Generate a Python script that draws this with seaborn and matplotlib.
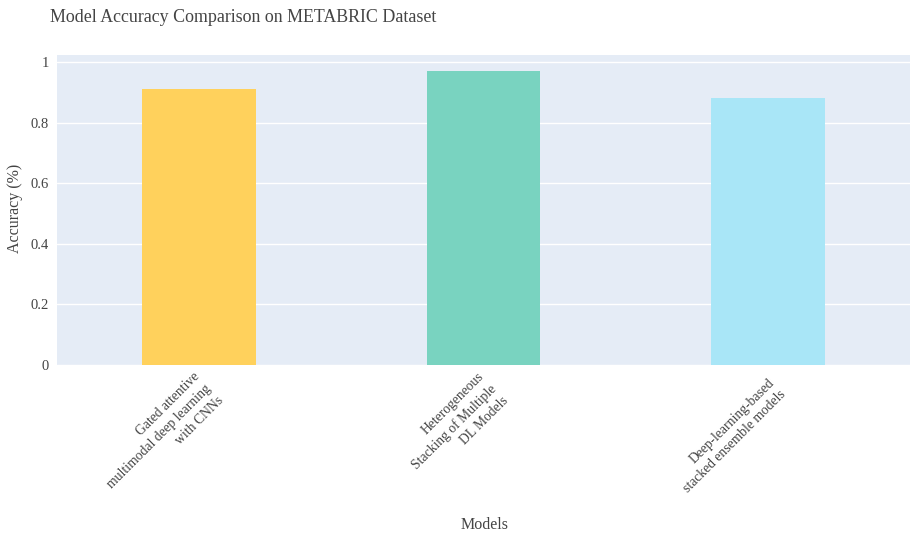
import matplotlib
matplotlib.use("Agg")
import matplotlib.pyplot as plt
import matplotlib.transforms as mtransforms
import seaborn as sns
import pandas as pd

models = [
    "Gated attentive\nmultimodal deep learning\nwith CNNs",
    "Heterogeneous\nStacking of Multiple\nDL Models",
    "Deep-learning-based\nstacked ensemble models",
]
accuracy = [0.912, 0.970, 0.881]
colors = ["#FFD15C", "#79D3C0", "#A9E6F7"]
y_ticks = [0, 0.2, 0.4, 0.6, 0.8, 1]
y_tick_labels = ["0", "0.2", "0.4", "0.6", "0.8", "1"]

df = pd.DataFrame({"Models": models, "Accuracy": accuracy})

sns.set_theme(style="darkgrid")
plt.rcParams["font.family"] = ["Liberation Serif", "DejaVu Serif"]

W, H = 910, 535
fig = plt.figure(figsize=(W / 100, H / 100), dpi=100)
ax = fig.add_axes([57 / W, (H - 365) / H, (910 - 57) / W, (365 - 55) / H])
ax.set_facecolor("#E5ECF6")

sns.barplot(data=df, x="Models", y="Accuracy", hue="Models", palette=colors,
            width=0.4, legend=False, ax=ax, saturation=1, linewidth=0)

ax.set_xlim(-0.5, 2.5)
ax.set_ylim(0, 1.023)
ax.set_yticks(y_ticks)
ax.set_yticklabels(y_tick_labels, fontsize=10.5, color="#444444")
ax.grid(axis="y", color="white", linewidth=1)
ax.grid(axis="x", visible=False)
for s in ax.spines.values():
    s.set_visible(False)
ax.tick_params(axis="y", length=0, pad=6)

ax.set_xticks(range(len(models)))
ax.set_xticklabels(models, rotation=45, ha="right", va="center_baseline",
                   rotation_mode="anchor", multialignment="right",
                   linespacing=1.35, fontsize=9.8, color="#444444")
ax.tick_params(axis="x", length=0, pad=7.5)
# nudge rotated labels so the first line ends just under each bar centre
shift = mtransforms.ScaledTranslation(8 / 100, -9 / 100, fig.dpi_scale_trans)
for lab in ax.get_xticklabels():
    lab.set_transform(lab.get_transform() + shift)

ax.set_xlabel("")
ax.set_ylabel("")
fig.text(485 / W, 1 - 525 / H, "Models", fontsize=11.5, color="#444444",
         ha="center", va="center")
fig.text(15 / W, 1 - 208 / H, "Accuracy (%)", fontsize=11.5, color="#444444",
         ha="center", va="center", rotation=90)
fig.text(50 / W, 1 - 17 / H, "Model Accuracy Comparison on METABRIC Dataset",
         fontsize=12.9, color="#444444", va="center", ha="left")

fig.savefig("out.png", dpi=100, facecolor="white")
